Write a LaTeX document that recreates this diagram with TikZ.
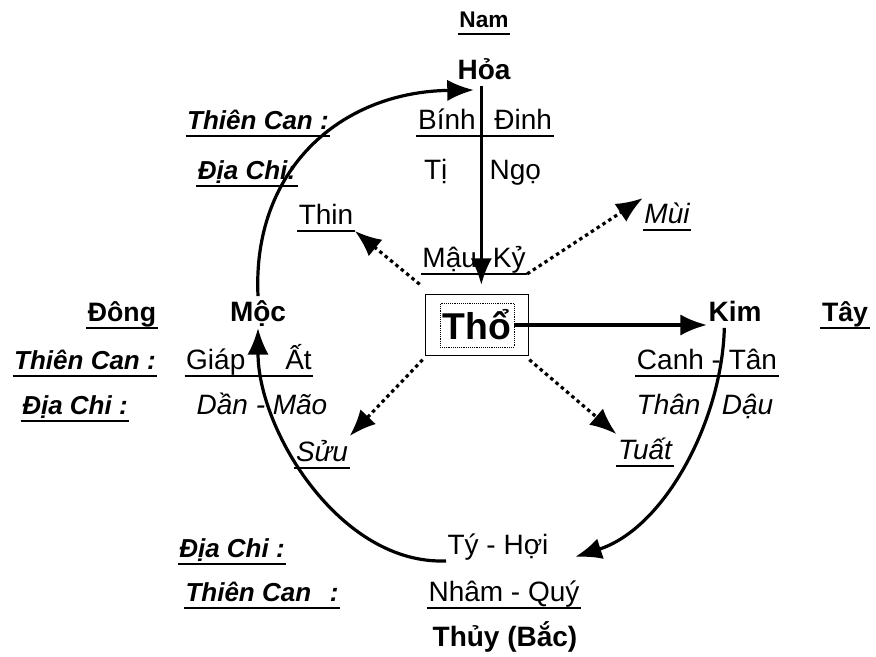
\documentclass[tikz,border=0pt]{standalone}
\usepackage{fontspec}
\setmainfont{Liberation Sans}
\usetikzlibrary{arrows.meta,fit}
\tikzset{
  ul/.style={inner sep=1pt,
    append after command={(\tikzlastnode.south west) edge[-,line width=1.8pt] (\tikzlastnode.south east)}},
  lift/.style={text height=18pt, text depth=3.5pt},
  head/.style={font=\fontsize{20}{22}\selectfont\bfseries, lift, ul},
  elem/.style={font=\fontsize{21}{23}\selectfont\bfseries, lift, inner sep=1pt},
  can/.style={font=\fontsize{19.5}{22}\selectfont\bfseries\itshape, lift, ul},
  txt/.style={font=\fontsize{21}{23}\selectfont, lift, inner sep=1pt},
  itx/.style={font=\fontsize{21}{23}\selectfont\itshape, lift, inner sep=1pt},
  flow/.style={->, line width=2.4pt},
  dots/.style={->, line width=2.4pt, dash pattern=on 2.6pt off 2.6pt},
}
\begin{document}
\begin{tikzpicture}[>={Latex[length=20pt,width=16pt]}, x=0.75pt, y=-0.75pt]
    \useasboundingbox (0,0) rectangle (876,657);
    % Hoa (Nam)
    \node[head, font=\fontsize{17}{20}\selectfont\bfseries, text height=15pt] (nam) at (484,20) {Nam};
    \node[elem] (hoa) at (484,70) {Hỏa};
    \node[can] (tc1) at (258,120) {Thiên Can :};
    \node[can] (dc1) at (247,170) {Địa Chi:};
    \node[txt, ul] (binh) at (485,120) {Bính\hspace{14pt}Đinh};
    \node[txt, anchor=east] (ti) at (449,170) {Tị};
    \node[txt, anchor=west] (ngo) at (488,170) {Ngọ};
    % Tho
    \node[txt, ul] (thin) at (326,215) {Thin};
    \node[itx, ul] (mui) at (667,214) {Mùi};
    \node[txt, ul] (mauky) at (474,258) {Mậu\hspace{12pt}Kỷ};
    \node[font=\fontsize{28}{30}\selectfont\bfseries, draw, densely dotted, inner xsep=2pt, inner ysep=5pt] (tho) at (477,325) {Thổ};
    \node[draw, line width=.8pt, fit=(tho), inner xsep=11pt, inner ysep=6pt] (thobox) {};
    \node[itx, ul] (suu) at (322,452) {Sửu};
    \node[itx, ul] (tuat) at (645,450) {Tuất};
    % Moc (Dong)
    \node[head] (dong) at (122,312) {Đông};
    \node[elem] (moc) at (258,312) {Mộc};
    \node[can] (tc2) at (85,360) {Thiên Can :};
    \node[txt, ul] (giap) at (249,360) {Giáp\hspace{30pt}Ất};
    \node[can] (dc2) at (75,405) {Địa Chi :};
    \node[itx] (dan) at (262,405) {Dần - Mão};
    % Kim (Tay)
    \node[elem] (kim) at (735,312) {Kim};
    \node[head] (tay) at (845,312) {Tây};
    \node[txt, ul] (canh) at (707,360) {Canh - Tân};
    \node[itx] (than) at (705,405) {Thân\hspace{16pt}Dậu};
    % Thuy (Bac)
    \node[can] (dc3) at (232,548) {Địa Chi :};
    \node[txt] (tyhoi) at (498,545) {Tý - Hợi};
    \node[can] (tc3) at (262,592) {Thiên Can\hspace{14pt}:};
    \node[txt, ul] (nham) at (504,592) {Nhâm - Quý};
    \node[elem] (thuy) at (505,637) {Thủy (Bắc)};

    \draw[flow] (moc.north) .. controls (252,170) and (340,92) .. ([shift={(18,20)}]hoa.west);
    \draw[flow, shorten >=7pt] ([xshift=-2pt]hoa.south) -- ([xshift=-2pt]hoa.south |- thobox.north);
    \draw[flow] (tho.east) -- (tho.east -| kim.west);
    \draw[flow] ([xshift=-8pt]kim.south) .. controls (722,420) and (665,528) .. ([shift={(25,12)}]tyhoi.east);
    \draw[flow] (tyhoi.south west) .. controls (340,565) and (258,430) .. (moc.south);

    \draw[dots] ([shift={(-5,-10)}]thobox.north west) -- (thin.south east);
    \draw[dots] (mauky.south east) -- (mui.north west);
    \draw[dots] ([shift={(-2,4)}]thobox.south west) -- (suu.north east);
    \draw[dots] ([shift={(0,4)}]thobox.south east) -- (tuat.north west);
\end{tikzpicture}
\end{document}
